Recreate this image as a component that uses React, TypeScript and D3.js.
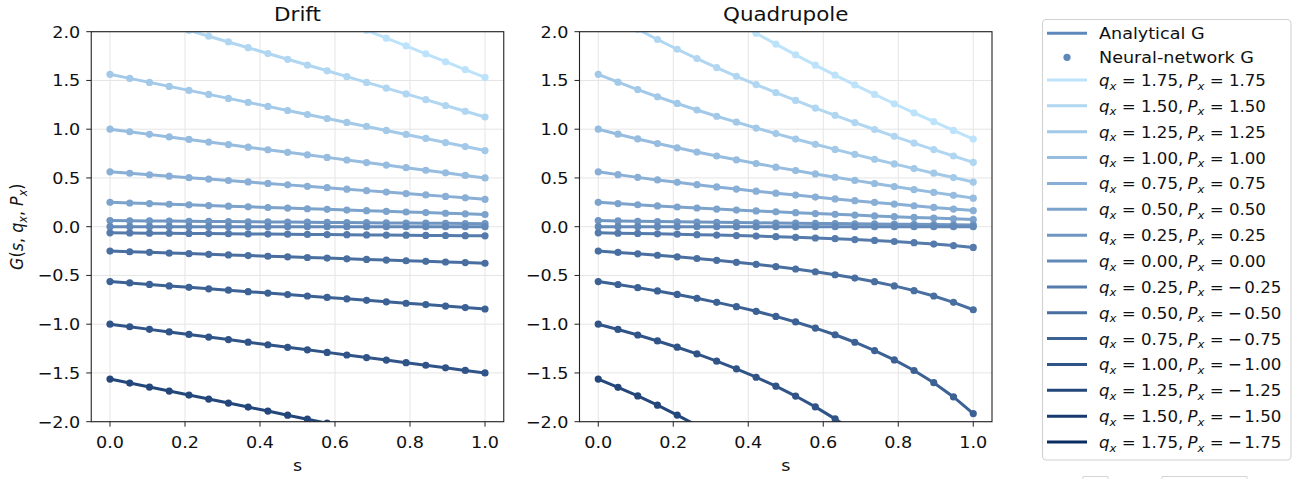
import React from 'react';
import * as d3 from 'd3';

// s grid used for both panels (20 points)
const sValues = [0, 0.05263, 0.10526, 0.15789, 0.21053, 0.26316, 0.31579, 0.36842, 0.42105, 0.47368,
  0.52632, 0.57895, 0.63158, 0.68421, 0.73684, 0.78947, 0.84211, 0.89474, 0.94737, 1];

const qLabels = ['1.75', '1.50', '1.25', '1.00', '0.75', '0.50', '0.25', '0.00',
  '0.25', '0.50', '0.75', '1.00', '1.25', '1.50', '1.75'];
const pLabels = ['1.75', '1.50', '1.25', '1.00', '0.75', '0.50', '0.25', '0.00',
  '-0.25', '-0.50', '-0.75', '-1.00', '-1.25', '-1.50', '-1.75'];

const xTicks = [0, 0.2, 0.4, 0.6, 0.8, 1.0];
const yTicks = [-2, -1.5, -1, -0.5, 0, 0.5, 1, 1.5, 2];

const driftG = [
  [3.063, 2.982, 2.901, 2.821, 2.740, 2.660, 2.579, 2.498, 2.418, 2.337, 2.257, 2.176, 2.095, 2.015, 1.934, 1.854, 1.773, 1.692, 1.612, 1.531],
  [2.250, 2.191, 2.132, 2.072, 2.013, 1.954, 1.895, 1.836, 1.776, 1.717, 1.658, 1.599, 1.539, 1.480, 1.421, 1.362, 1.303, 1.243, 1.184, 1.125],
  [1.563, 1.521, 1.480, 1.439, 1.398, 1.357, 1.316, 1.275, 1.234, 1.192, 1.151, 1.110, 1.069, 1.028, 0.987, 0.946, 0.905, 0.863, 0.822, 0.781],
  [1.000, 0.974, 0.947, 0.921, 0.895, 0.868, 0.842, 0.816, 0.789, 0.763, 0.737, 0.711, 0.684, 0.658, 0.632, 0.605, 0.579, 0.553, 0.526, 0.500],
  [0.563, 0.548, 0.533, 0.518, 0.503, 0.488, 0.474, 0.459, 0.444, 0.429, 0.414, 0.400, 0.385, 0.370, 0.355, 0.340, 0.326, 0.311, 0.296, 0.281],
  [0.250, 0.243, 0.237, 0.230, 0.224, 0.217, 0.211, 0.204, 0.197, 0.191, 0.184, 0.178, 0.171, 0.164, 0.158, 0.151, 0.145, 0.138, 0.132, 0.125],
  [0.063, 0.061, 0.059, 0.058, 0.056, 0.054, 0.053, 0.051, 0.049, 0.048, 0.046, 0.044, 0.043, 0.041, 0.039, 0.038, 0.036, 0.035, 0.033, 0.031],
  [0, 0, 0, 0, 0, 0, 0, 0, 0, 0, 0, 0, 0, 0, 0, 0, 0, 0, 0, 0],
  [-0.063, -0.064, -0.066, -0.067, -0.069, -0.071, -0.072, -0.074, -0.076, -0.077, -0.079, -0.081, -0.082, -0.084, -0.086, -0.087, -0.089, -0.090, -0.092, -0.094],
  [-0.250, -0.257, -0.263, -0.270, -0.276, -0.283, -0.289, -0.296, -0.303, -0.309, -0.316, -0.322, -0.329, -0.336, -0.342, -0.349, -0.355, -0.362, -0.368, -0.375],
  [-0.563, -0.577, -0.592, -0.607, -0.622, -0.637, -0.651, -0.666, -0.681, -0.696, -0.711, -0.725, -0.740, -0.755, -0.770, -0.785, -0.799, -0.814, -0.829, -0.844],
  [-1.000, -1.026, -1.053, -1.079, -1.105, -1.132, -1.158, -1.184, -1.211, -1.237, -1.263, -1.289, -1.316, -1.342, -1.368, -1.395, -1.421, -1.447, -1.474, -1.500],
  [-1.563, -1.604, -1.645, -1.686, -1.727, -1.768, -1.809, -1.850, -1.891, -1.933, -1.974, -2.015, -2.056, -2.097, -2.138, -2.179, -2.220, -2.262, -2.303, -2.344],
  [-2.250, -2.309, -2.368, -2.428, -2.487, -2.546, -2.605, -2.664, -2.724, -2.783, -2.842, -2.901, -2.961, -3.020, -3.079, -3.138, -3.197, -3.257, -3.316, -3.375],
  [-3.063, -3.143, -3.224, -3.304, -3.385, -3.465, -3.546, -3.627, -3.707, -3.788, -3.868, -3.949, -4.029, -4.110, -4.191, -4.271, -4.352, -4.432, -4.513, -4.594],
];

const quadG = [
  [3.063, 2.905, 2.756, 2.613, 2.477, 2.347, 2.221, 2.101, 1.984, 1.872, 1.763, 1.657, 1.554, 1.454, 1.357, 1.261, 1.168, 1.077, 0.987, 0.899],
  [2.250, 2.135, 2.025, 1.920, 1.820, 1.724, 1.632, 1.543, 1.458, 1.375, 1.295, 1.217, 1.142, 1.068, 0.997, 0.927, 0.858, 0.791, 0.725, 0.660],
  [1.563, 1.482, 1.406, 1.333, 1.264, 1.197, 1.133, 1.072, 1.012, 0.955, 0.899, 0.845, 0.793, 0.742, 0.692, 0.644, 0.596, 0.549, 0.504, 0.458],
  [1.000, 0.949, 0.900, 0.853, 0.809, 0.766, 0.725, 0.686, 0.648, 0.611, 0.576, 0.541, 0.507, 0.475, 0.443, 0.412, 0.381, 0.352, 0.322, 0.293],
  [0.563, 0.534, 0.506, 0.480, 0.455, 0.431, 0.408, 0.386, 0.364, 0.344, 0.324, 0.304, 0.285, 0.267, 0.249, 0.232, 0.215, 0.198, 0.181, 0.165],
  [0.250, 0.237, 0.225, 0.213, 0.202, 0.192, 0.181, 0.171, 0.162, 0.153, 0.144, 0.135, 0.127, 0.119, 0.111, 0.103, 0.095, 0.088, 0.081, 0.073],
  [0.063, 0.059, 0.056, 0.053, 0.051, 0.048, 0.045, 0.043, 0.040, 0.038, 0.036, 0.034, 0.032, 0.030, 0.028, 0.026, 0.024, 0.022, 0.020, 0.018],
  [0, 0, 0, 0, 0, 0, 0, 0, 0, 0, 0, 0, 0, 0, 0, 0, 0, 0, 0, 0],
  [-0.063, -0.066, -0.069, -0.073, -0.077, -0.082, -0.086, -0.091, -0.096, -0.102, -0.109, -0.116, -0.123, -0.132, -0.141, -0.152, -0.164, -0.178, -0.194, -0.213],
  [-0.250, -0.264, -0.278, -0.293, -0.309, -0.326, -0.345, -0.365, -0.386, -0.409, -0.434, -0.462, -0.493, -0.527, -0.564, -0.607, -0.656, -0.711, -0.776, -0.852],
  [-0.563, -0.593, -0.625, -0.659, -0.695, -0.734, -0.776, -0.820, -0.868, -0.920, -0.977, -1.040, -1.108, -1.185, -1.270, -1.366, -1.475, -1.600, -1.746, -1.917],
  [-1.000, -1.054, -1.111, -1.172, -1.236, -1.305, -1.379, -1.458, -1.544, -1.636, -1.737, -1.848, -1.971, -2.106, -2.258, -2.428, -2.622, -2.845, -3.103, -3.408],
  [-1.563, -1.647, -1.736, -1.831, -1.932, -2.039, -2.154, -2.278, -2.412, -2.557, -2.715, -2.888, -3.079, -3.291, -3.528, -3.794, -4.097, -4.445, -4.849, -5.325],
  [-2.250, -2.372, -2.500, -2.637, -2.782, -2.936, -3.102, -3.280, -3.473, -3.682, -3.909, -4.159, -4.434, -4.739, -5.080, -5.464, -5.900, -6.401, -6.983, -7.669],
  [-3.063, -3.228, -3.403, -3.589, -3.786, -3.997, -4.222, -4.465, -4.727, -5.011, -5.321, -5.661, -6.035, -6.450, -6.914, -7.436, -8.030, -8.712, -9.504, -10.438],
];

const W = 1304;
const H = 479;
const FONT = 'DejaVu Sans';
const SX = 1.1; // text looks a bit wide in the reference
const SXM = 1.04; // mathtext legend entries are tighter
const axW = 412.5;
const axTop = 31.7;
const axBottom = 421.7;

const color = d3.interpolateRgbBasis(['#bde3fb', '#6189bb', '#0b2c62']);
const seriesColor = (i: number) => color(i / (qLabels.length - 1));
const legendBlue = '#5e88bb';

const fmt = (v: number) => d3.format('.1f')(v).replace('-', '\u2212');
const tr = (x: number, y: number, k = SX) => `translate(${x},${y}) scale(${k},1)`;

const Panel = ({ left, title, values, id }: { left: number; title: string; values: number[][]; id: string }) => {
  const x = d3.scaleLinear().domain([-0.05, 1.05]).range([left, left + axW]);
  const y = d3.scaleLinear().domain([-2, 2]).range([axBottom, axTop]);
  const line = d3.line<number>().x((_, i) => x(sValues[i])).y(d => y(d));
  return (
    <g>
      <defs>
        <clipPath id={id}>
          <rect x={left} y={axTop} width={axW} height={axBottom - axTop} />
        </clipPath>
      </defs>
      {xTicks.map(t => (
        <line key={'gx' + t} x1={x(t)} x2={x(t)} y1={axTop} y2={axBottom} stroke="#e5e5e5" strokeWidth={1} />
      ))}
      {yTicks.map(t => (
        <line key={'gy' + t} x1={left} x2={left + axW} y1={y(t)} y2={y(t)} stroke="#e5e5e5" strokeWidth={1} />
      ))}
      <g clipPath={`url(#${id})`}>
        {values.map((vals, i) => (
          <g key={i}>
            <path d={line(vals) || ''} fill="none" stroke={seriesColor(i)} strokeWidth={3} />
            {vals.map((v, j) => (
              <circle key={j} cx={x(sValues[j])} cy={y(v)} r={3.6} fill={seriesColor(i)} />
            ))}
          </g>
        ))}
      </g>
      <rect x={left} y={axTop} width={axW} height={axBottom - axTop} fill="none" stroke="#222" strokeWidth={1.1} />
      {xTicks.map(t => (
        <g key={'tx' + t}>
          <line x1={x(t)} x2={x(t)} y1={axBottom} y2={axBottom + 5} stroke="#222" strokeWidth={1} />
          <text transform={tr(x(t), 448)} textAnchor="middle" fontSize={16} fontFamily={FONT} fill="#111">{fmt(t)}</text>
        </g>
      ))}
      {yTicks.map(t => (
        <g key={'ty' + t}>
          <line x1={left - 5} x2={left} y1={y(t)} y2={y(t)} stroke="#222" strokeWidth={1} />
          <text transform={tr(left - 11, y(t) + 5.8)} textAnchor="end" fontSize={16} fontFamily={FONT} fill="#111">{fmt(t)}</text>
        </g>
      ))}
      <text transform={tr(left + axW / 2, 20.5)} textAnchor="middle" fontSize={19.5} fontFamily={FONT} fill="#111">{title}</text>
      <text transform={tr(left + axW / 2, 471)} textAnchor="middle" fontSize={16} fontFamily={FONT} fill="#111">s</text>
    </g>
  );
};

const MathEntry = ({ q, p }: { q: string; p: string }) => {
  const neg = p.startsWith('-');
  return (
    <>
      <tspan fontStyle="italic">q</tspan>
      <tspan fontStyle="italic" fontSize={11.2} dy={3.5}>x</tspan>
      <tspan dy={-3.5}>{' = ' + q + ','}</tspan>
      <tspan fontStyle="italic" dx={4}>P</tspan>
      <tspan fontStyle="italic" fontSize={11.2} dy={3.5}>x</tspan>
      <tspan dy={-3.5}>{' ='}</tspan>
      {neg ? (
        <>
          <tspan dx={4}>{'\u2212'}</tspan>
          <tspan dx={2.5}>{p.slice(1)}</tspan>
        </>
      ) : (
        <tspan>{' ' + p}</tspan>
      )}
    </>
  );
};

const Legend = () => {
  const lx = 1047;
  const tx = 1099;
  const rowY = (i: number) => 80 + i * 25.86;
  return (
    <g fontFamily={FONT} fontSize={16} fill="#111">
      <rect x={1042.5} y={19.5} width={248.5} height={440.5} rx={4} fill="#fff" fillOpacity={0.8} stroke="#d2d2d2" strokeWidth={1.1} />
      <line x1={lx} x2={lx + 40} y1={33.3} y2={33.3} stroke={legendBlue} strokeWidth={3} />
      <text transform={tr(tx, 39.2)}>Analytical G</text>
      <circle cx={lx + 20} cy={57.3} r={3.6} fill={legendBlue} />
      <text transform={tr(tx, 63.2)}>Neural-network G</text>
      {qLabels.map((q, i) => (
        <g key={i}>
          <line x1={lx} x2={lx + 40} y1={rowY(i)} y2={rowY(i)} stroke={seriesColor(i)} strokeWidth={3} />
          <text transform={tr(tx, rowY(i) + 6, SXM)}>
            <MathEntry q={q} p={pLabels[i]} />
          </text>
        </g>
      ))}
    </g>
  );
};

export default function App() {
  return (
    <svg width={W} height={H} style={{ position: 'absolute', left: 0, top: 0, background: '#fff' }}>
      <rect width={W} height={H} fill="#fff" />
      <Panel left={91.25} title="Drift" values={driftG} id="clip-drift" />
      <Panel left={579.5} title="Quadrupole" values={quadG} id="clip-quad" />
      <text transform={`translate(23,226.7) rotate(-90) scale(1,${SX})`} textAnchor="middle" fontSize={16} fontFamily={FONT} fill="#111">
        <tspan fontStyle="italic">G</tspan>
        <tspan>(</tspan>
        <tspan fontStyle="italic">s</tspan>
        <tspan>{', '}</tspan>
        <tspan fontStyle="italic">q</tspan>
        <tspan fontStyle="italic" fontSize={11.2} dy={3.5}>x</tspan>
        <tspan dy={-3.5}>{', '}</tspan>
        <tspan fontStyle="italic">P</tspan>
        <tspan fontStyle="italic" fontSize={11.2} dy={3.5}>x</tspan>
        <tspan dy={-3.5}>)</tspan>
      </text>
      <Legend />
      <path d="M1083,479 V476.5 H1108 V479 M1162,479 V476.5 H1247 V479" fill="none" stroke="#d5d5d5" strokeWidth={1} />
    </svg>
  );
}
